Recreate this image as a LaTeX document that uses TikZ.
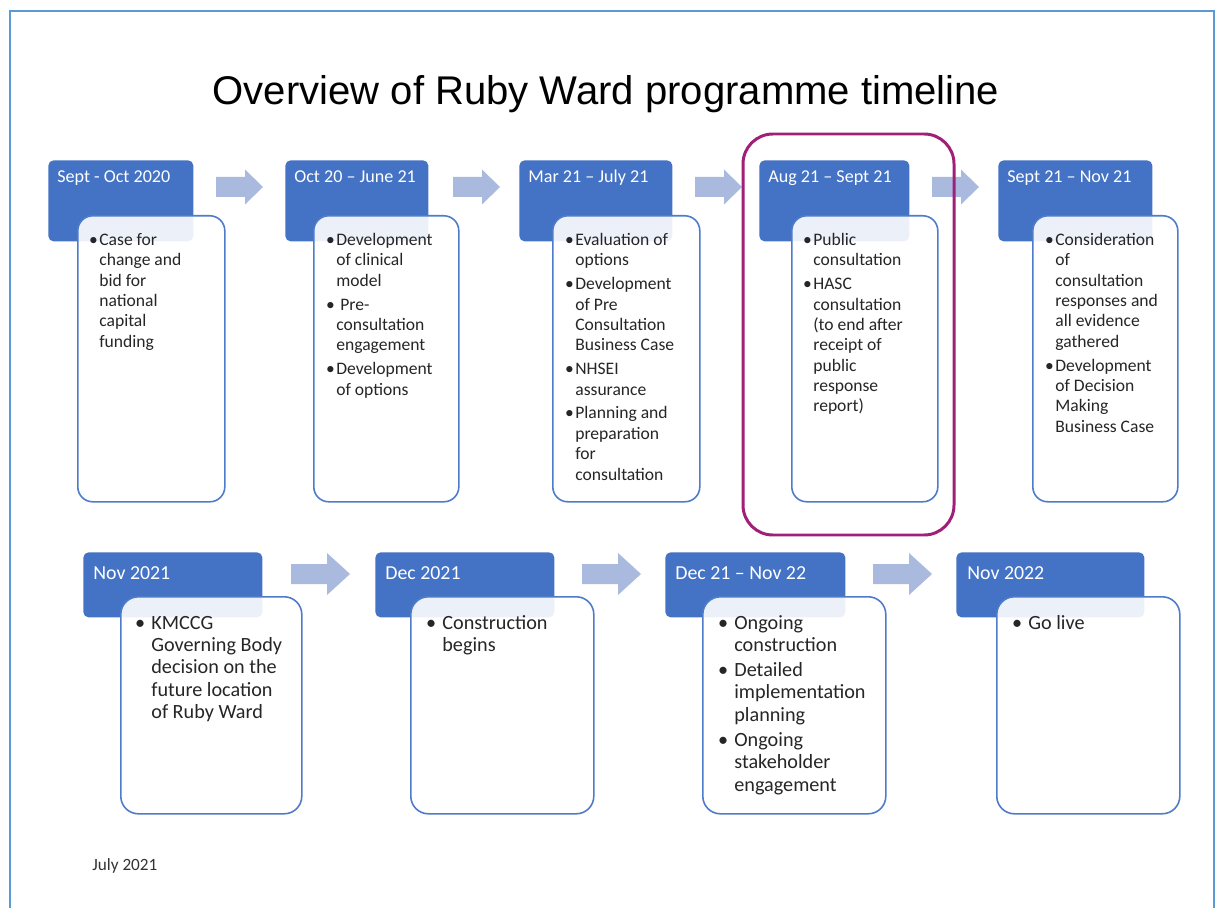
\documentclass[tikz,border=0pt]{standalone}
\usepackage{fontspec}
\setmainfont{Carlito}
\newfontfamily\titlefont{Liberation Sans}
\definecolor{hdrblue}{RGB}{68,114,196}
\definecolor{boxblue}{RGB}{79,124,202}
\definecolor{arrowblue}{RGB}{170,186,222}
\definecolor{rubymag}{RGB}{160,32,120}
\definecolor{framecol}{RGB}{91,155,213}
\tikzset{
  hdr/.style={draw=none, fill=hdrblue, rounded corners=3pt, inner sep=0pt, anchor=north west},
  cbox/.style={draw=boxblue, line width=0.9pt, fill=white, fill opacity=0.9, rounded corners=8.5pt, inner sep=0pt, anchor=north west},
  cboxb/.style={cbox, rounded corners=10pt},
  hdrtxt/.style={text=white, inner sep=0pt, anchor=base west, font=\fontsize{10.3}{12}\selectfont},
  hdrtxtb/.style={hdrtxt, font=\fontsize{11.3}{13}\selectfont},
  bodytxt/.style={text=black!85, inner sep=0pt, anchor=north west, align=left, font=\fontsize{10}{11.6}\selectfont},
  bodytxtb/.style={bodytxt, font=\fontsize{11.5}{12.75}\selectfont},
  blockarrow/.style={fill=arrowblue, draw=none},
}
\newcommand{\hdrbox}[5]{\node[hdr, minimum width={(#4-#2)*0.02cm}, minimum height={(#5-#3)*0.02cm}] (#1) at (#2,#3) {};}
\newcommand{\cntbox}[6]{\node[#6, minimum width={(#4-#2)*0.02cm}, minimum height={(#5-#3)*0.02cm}] (#1) at (#2,#3) {};}
\newcommand{\bt}{\rule{0pt}{8pt}\llap{\textbullet\hspace{0.8pt}}}
\newcommand{\bi}{\llap{\textbullet\hspace{0.8pt}}}
\newcommand{\btb}{\rule{0pt}{9.5pt}\llap{\textbullet\hspace{3.5pt}}}
\newcommand{\bib}{\llap{\textbullet\hspace{3.5pt}}}
% name, x, y centre, shaft length, head length, shaft half, head half
\newcommand{\barrow}[7]{\fill[blockarrow] (#2,#3-#6) -- (#2+#4,#3-#6) -- (#2+#4,#3-#7) -- (#2+#4+#5,#3) -- (#2+#4,#3+#7) -- (#2+#4,#3+#6) -- (#2,#3+#6) -- cycle;
  \coordinate (#1) at (#2,#3);}
\begin{document}
\begin{tikzpicture}[x=0.02cm,y=-0.02cm]
\useasboundingbox (0,0) rectangle (1219,908);
\fill[white] (0,0) rectangle (1219,908);

% title
\node[inner sep=0pt, anchor=base, font=\titlefont\fontsize{22.8}{27}\selectfont] (title) at (606,105) {Overview of Ruby Ward programme timeline};

% top row headers
\hdrbox{h1}{48}{160}{193}{241}
\hdrbox{h2}{285}{160}{428}{241}
\hdrbox{h3}{519}{160}{672}{241}
\hdrbox{h4}{759}{160}{909}{241}
\hdrbox{h5}{998}{160}{1152}{241}
\node[hdrtxt] (t1) at (57,183) {Sept - Oct 2020};
\node[hdrtxt] (t2) at (294,183) {Oct 20 – June 21};
\node[hdrtxt] (t3) at (528,183) {Mar 21 – July 21};
\node[hdrtxt] (t4) at (768,183) {Aug 21 – Sept 21};
\node[hdrtxt] (t5) at (1007,183) {Sept 21 – Nov 21};

% top row content boxes
\cntbox{c1}{77}{215}{224}{501}{cbox}
\cntbox{c2}{313}{215}{458}{501}{cbox}
\cntbox{c3}{552}{215}{699}{501}{cbox}
\cntbox{c4}{791}{215}{937}{501}{cbox}
\cntbox{c5}{1032}{215}{1177}{501}{cbox}

\node[bodytxt] (b1) at (99,231) {\bt Case for\\change and\\bid for\\national\\capital\\funding};
\node[bodytxt] (b2) at (336,231) {\bt Development\\of clinical\\model\\[2pt]\bi\ Pre-\\consultation\\engagement\\[2pt]\bi Development\\of options};
\node[bodytxt] (b3) at (575,231) {\bt Evaluation of\\options\\[2pt]\bi Development\\of Pre\\Consultation\\Business Case\\[2pt]\bi NHSEI\\assurance\\[2pt]\bi Planning and\\preparation\\for\\consultation};
\node[bodytxt] (b4) at (813,231) {\bt Public\\consultation\\[2pt]\bi HASC\\consultation\\(to end after\\receipt of\\public\\response\\report)};
\node[bodytxt] (b5) at (1055,231) {\bt Consideration\\of\\consultation\\responses and\\all evidence\\gathered\\[2pt]\bi Development\\of Decision\\Making\\Business Case};

% top row arrows
\barrow{a1}{216}{187}{29}{18}{10}{17.5}
\barrow{a2}{453}{187}{29}{18}{10}{17.5}
\barrow{a3}{695}{187}{29}{18}{10}{17.5}
\barrow{a4}{932}{187}{29}{18}{10}{17.5}

% bottom row headers
\hdrbox{h6}{83}{552}{262}{617}
\hdrbox{h7}{375}{552}{554}{617}
\hdrbox{h8}{665}{552}{845}{617}
\hdrbox{h9}{956}{552}{1144}{617}
\node[hdrtxtb] (t6) at (93,579) {Nov 2021};
\node[hdrtxtb] (t7) at (385,579) {Dec 2021};
\node[hdrtxtb] (t8) at (675,579) {Dec 21 – Nov 22};
\node[hdrtxtb] (t9) at (967,579) {Nov 2022};

% bottom row content boxes
\cntbox{c6}{120}{596}{301}{813}{cboxb}
\cntbox{c7}{410}{596}{593}{813}{cboxb}
\cntbox{c8}{702}{596}{885}{813}{cboxb}
\cntbox{c9}{996}{596}{1179}{813}{cboxb}

\node[bodytxtb] (b6) at (151,612) {\btb KMCCG\\Governing Body\\decision on the\\future location\\of Ruby Ward};
\node[bodytxtb] (b7) at (442,612) {\btb Construction\\begins};
\node[bodytxtb] (b8) at (734,612) {\btb Ongoing\\construction\\[1.5pt]\bib Detailed\\implementation\\planning\\[1.5pt]\bib Ongoing\\stakeholder\\engagement};
\node[bodytxtb] (b9) at (1028,612) {\btb Go live};

% bottom row arrows
\barrow{a5}{291}{574}{36}{23}{10}{21}
\barrow{a6}{582}{574}{36}{23}{10}{21}
\barrow{a7}{873}{574}{36}{23}{10}{21}

% highlight around Aug-Sept 21
\draw[rubymag, line width=1.7pt, rounded corners=17pt] (743,134) rectangle (954,535);
\coordinate (hl) at (848,334);

% footer
\node[inner sep=0pt, anchor=base west, font=\fontsize{9.8}{11}\selectfont, text=black!80] (date) at (92,870) {July 2021};

% outer frame
\draw[framecol, line width=0.9pt] (10,930) -- (10,11) -- (1214,11) -- (1214,930);
\end{tikzpicture}
\end{document}
